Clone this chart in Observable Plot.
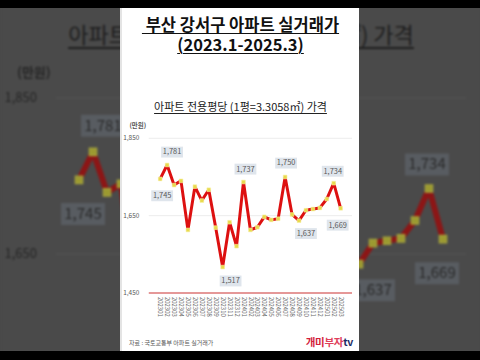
<!DOCTYPE html>
<html><head><meta charset="utf-8">
<script src="https://cdn.jsdelivr.net/npm/d3@7"></script>
<script src="https://cdn.jsdelivr.net/npm/@observablehq/plot@0.6"></script>
<style>
html,body{margin:0;padding:0;width:480px;height:360px;overflow:hidden;background:#4a4a4a;font-family:"Noto Sans CJK KR","Noto Sans",sans-serif;}
#bg{position:absolute;left:0;top:0;width:480px;height:360px;overflow:hidden;}
.panel{position:absolute;left:120px;top:8px;width:239px;height:344px;overflow:hidden;}
.bar{position:absolute;left:0;width:480px;background:#000;}
.t1,.t2{position:absolute;left:0;width:100%;text-align:center;font-weight:bold;font-size:16.5px;line-height:20px;}
.t1 span,.t2 span{text-decoration:underline;text-decoration-thickness:1px;text-underline-offset:2px;}
.t1{top:6px;} .t2{top:26px;}
.sub{position:absolute;left:0;width:100%;top:91px;text-align:center;font-size:11px;line-height:14px;}
.sub span{text-decoration:underline;text-decoration-thickness:1px;text-underline-offset:1.5px;}
.plot{position:absolute;left:0;top:107px;}
.src{position:absolute;left:7px;top:331px;font-size:6px;line-height:8px;}
.logo{position:absolute;right:6px;top:327px;font-size:10.5px;line-height:13px;font-weight:bold;letter-spacing:-0.3px;}
</style></head>
<body>
<div id="bg"></div>
<div id="fg"></div>
<div class="bar" style="top:0;height:8px"></div>
<div class="bar" style="top:351px;height:9px"></div>
<script>
const titleLine1 = "부산 강서구 아파트 실거래가";
const titleLine2 = "(2023.1-2025.3)";
const subtitle = "아파트 전용평당 (1평=3.3058㎡) 가격";
const unitLabel = "(만원)";
const sourceText = "자료 : 국토교통부 아파트 실거래가";
const months = ["202301","202302","202303","202304","202305","202306","202307","202308","202309","202310","202311","202312",
                "202401","202402","202403","202404","202405","202406","202407","202408","202409","202410","202411","202412",
                "202501","202502","202503"];
const values = [1745,1781,1729,1740,1613,1725,1689,1717,1619,1517,1633,1571,
                1737,1613,1620,1647,1639,1642,1750,1653,1637,1664,1667,1670,
                1693,1734,1669];
const yTicks = [1450,1650,1850];
const labeledMonths = ["202301","202302","202310","202401","202407","202409","202502","202503"];

const light = {bg:"#ffffff", text:"#111", sub:"#222", axis:"#555", xaxis:"#666", line:"#dd1010", marker:"#e8da4c", markerStroke:"#f6ef9e",
  box:"#dfe5ec", boxText:"#5a5a5a", grid:"#ececec", base:"#cc3333", src:"#555", logo:["#d3203a","#e0405a","#1d2b66"]};
const dark = {bg:"#4a4a4a", text:"#1c1c1c", sub:"#1e1e1e", axis:"#262626", xaxis:"#2a2a2a", line:"#8c1616", marker:"#9c9a30", markerStroke:"#a3a13c",
  box:"#585c61", boxText:"#2a2a2a", grid:"#505050", base:"#6a2a2a", src:"#2a2a2a", logo:["#6a1020","#702030","#101830"]};

// label placement (style, not data)
const labelOffset = {"202301":[2,17],"202302":[5,-13],"202310":[8,14],"202401":[2,-13],"202407":[1,-14],"202409":[7,13],"202502":[-1,-12],"202503":[-3,17]};

function chart(t){
  const data = months.map((m,i)=>({month:m, value:values[i]}));
  const lab = data.filter(d=>labeledMonths.includes(d.month));
  const boxSym = {draw(ctx){ ctx.rect(-11,-5.5,22,11); }};
  const fmt = d3.format(",");
  const labelMarks = lab.flatMap(d=>{
    const [dx,dy] = labelOffset[d.month];
    return [
      Plot.dot([d],{x:"month",y:"value",symbol:boxSym,r:5,fill:t.box,stroke:"none",dx,dy}),
      Plot.text([d],{x:"month",y:"value",text:d=>fmt(d.value),fill:t.boxText,fontSize:7.5,dx,dy})
    ];
  });
  return Plot.plot({
    width:239, height:220, marginLeft:29, marginRight:11, marginTop:23, marginBottom:41,
    style:{background:"transparent", fontFamily:"'Noto Sans CJK KR','Noto Sans',sans-serif", overflow:"visible"},
    x:{type:"point", domain:months},
    y:{domain:[1450,1850]},
    marks:[
      Plot.gridY([1650,1850],{stroke:t.grid,strokeOpacity:1,insetLeft:-2,insetRight:-4}),
      Plot.ruleY([1450],{stroke:t.base,strokeWidth:1.1,insetLeft:-2,insetRight:-4}),
      Plot.axisY(yTicks,{tickSize:0,tickPadding:12,tickFormat:fmt,fontSize:6.5,fill:t.axis,label:null}),
      Plot.axisX({tickSize:0,tickPadding:4,tickRotate:90,fontSize:6,fill:t.xaxis,label:null}),
      Plot.lineY(data,{x:"month",y:"value",stroke:t.line,strokeWidth:3,strokeLinejoin:"miter"}),
      Plot.dot(data,{x:"month",y:"value",symbol:"square",r:2.1,fill:t.marker,stroke:t.markerStroke,strokeWidth:0.6}),
      ...labelMarks,
      Plot.text([unitLabel],{frameAnchor:"top-left",dx:-22,dy:-15,fontSize:6.5,fontWeight:"bold",fill:t.axis})
    ]
  });
}

function panel(t){
  const p = document.createElement("div");
  p.className = "panel";
  p.style.background = t.bg;
  p.innerHTML = `<div class="t1" style="color:${t.text}"><span>&nbsp;${titleLine1}</span></div>
    <div class="t2" style="color:${t.text}"><span>${titleLine2}</span></div>
    <div class="sub" style="color:${t.sub}"><span>${subtitle}</span></div>
    <div class="plot"></div>
    <div class="src" style="color:${t.src}">${sourceText}</div>
    <div class="logo"><span style="color:${t.logo[0]}">개미</span><span style="color:${t.logo[1]}">부자</span><span style="color:${t.logo[2]}">tv</span></div>`;
  p.querySelector(".plot").appendChild(chart(t));
  return p;
}

const bgp = panel(dark);
bgp.style.transformOrigin = "118px 171px";
bgp.style.transform = "scale(2)";
bgp.style.filter = "blur(0.5px)";
bgp.style.overflow = "visible";
document.getElementById("bg").appendChild(bgp);
const fgp = panel(light);
fgp.style.borderLeft = "2px solid #e4e4e4";
fgp.style.boxSizing = "border-box";
document.getElementById("fg").appendChild(fgp);
</script>
</body></html>
